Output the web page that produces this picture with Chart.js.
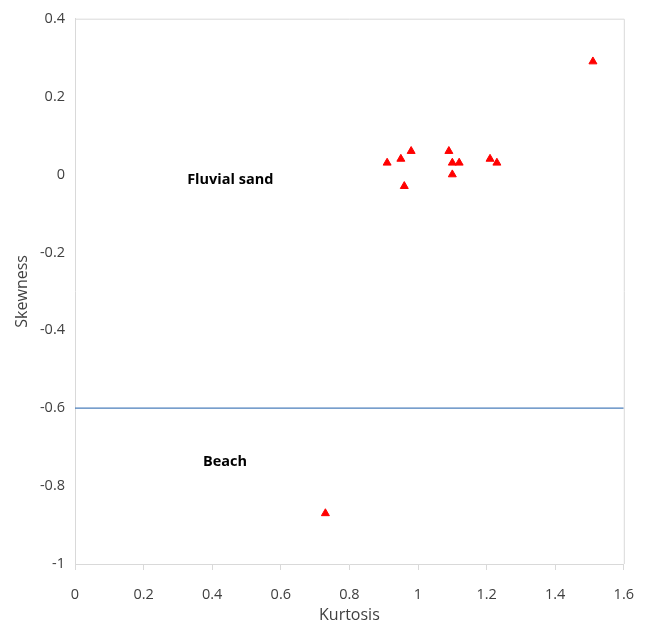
<!DOCTYPE html>
<html>
<head>
<meta charset="utf-8">
<script src="https://cdn.jsdelivr.net/npm/chart.js@4"></script>
<style>
  html, body { margin: 0; padding: 0; background: #fff; }
  canvas { display: block; }
</style>
</head>
<body>
<canvas id="chart" width="650" height="628"></canvas>
<script>
// sample points
const kurtosis = [0.91, 0.95, 0.98, 0.96, 1.09, 1.10, 1.12, 1.10, 1.21, 1.23, 1.51, 0.73];
const skewness = [0.03, 0.04, 0.06, -0.03, 0.06, 0.03, 0.03, 0.00, 0.04, 0.03, 0.29, -0.87];

// boundary between fluvial sand and beach
const boundaryX = [0, 1.6];
const boundaryY = [-0.6, -0.6];

// region labels
const regionNames = ['Fluvial sand', 'Beach'];
const regionX = [0.327, 0.373];
const regionY = [-0.015, -0.737];

const FONT = '"Open Sans", "Liberation Sans", sans-serif';

// text labels + the top/right frame lines
const extras = {
  id: 'extras',
  afterDatasetsDraw(chart) {
    const { ctx, chartArea: a, scales } = chart;
    ctx.save();
    ctx.strokeStyle = '#d9d9d9';
    ctx.lineWidth = 1;
    ctx.beginPath();
    ctx.moveTo(a.left, a.top + 0.5);
    ctx.lineTo(a.right + 0.5, a.top + 0.5);
    ctx.lineTo(a.right + 0.5, a.bottom);
    ctx.stroke();

    ctx.fillStyle = '#000';
    ctx.font = 'bold 14.5px ' + FONT;
    ctx.textAlign = 'left';
    ctx.textBaseline = 'middle';
    regionNames.forEach((name, i) => {
      ctx.fillText(name, scales.x.getPixelForValue(regionX[i]), scales.y.getPixelForValue(regionY[i]));
    });
    ctx.restore();
  }
};

new Chart(document.getElementById('chart'), {
  type: 'scatter',
  data: {
    datasets: [
      {
        label: 'Samples',
        data: kurtosis.map((k, i) => ({ x: k, y: skewness[i] })),
        pointStyle: 'triangle',
        pointRadius: 4.6,
        backgroundColor: '#ff0000',
        borderColor: '#ff0000',
        borderWidth: 1
      },
      {
        type: 'line',
        label: 'Boundary',
        data: boundaryX.map((x, i) => ({ x: x, y: boundaryY[i] })),
        borderColor: '#4a7ebb',
        borderWidth: 1.2,
        pointRadius: 0,
        fill: false
      }
    ]
  },
  options: {
    responsive: false,
    animation: false,
    layout: { padding: { top: 16, right: 24, left: 0, bottom: 0 } },
    plugins: {
      legend: { display: false },
      tooltip: { enabled: false }
    },
    scales: {
      x: {
        type: 'linear',
        min: 0,
        max: 1.6,
        afterFit(scale) { scale.height = 64; },
        grid: { drawOnChartArea: false, tickLength: 6, color: '#d9d9d9' },
        border: { display: true, color: '#d9d9d9' },
        ticks: {
          stepSize: 0.2,
          padding: 16,
          color: '#404040',
          font: { family: FONT, size: 14.5 },
          callback: v => +v.toFixed(1)
        },
        title: {
          display: true,
          text: 'Kurtosis',
          color: '#404040',
          padding: { top: 2.5, bottom: 2.5 },
          font: { family: FONT, size: 16 }
        }
      },
      y: {
        type: 'linear',
        min: -1,
        max: 0.4,
        afterFit(scale) { scale.width = 75; },
        grid: { drawOnChartArea: false, drawTicks: false, color: '#d9d9d9' },
        border: { display: true, color: '#d9d9d9' },
        ticks: {
          stepSize: 0.2,
          padding: 10,
          color: '#404040',
          font: { family: FONT, size: 14.5 },
          callback: v => +v.toFixed(1)
        },
        title: {
          display: true,
          text: 'Skewness',
          color: '#404040',
          padding: { top: 12.5, bottom: 12.5 },
          font: { family: FONT, size: 16 }
        }
      }
    }
  },
  plugins: [extras]
});
</script>
</body>
</html>
